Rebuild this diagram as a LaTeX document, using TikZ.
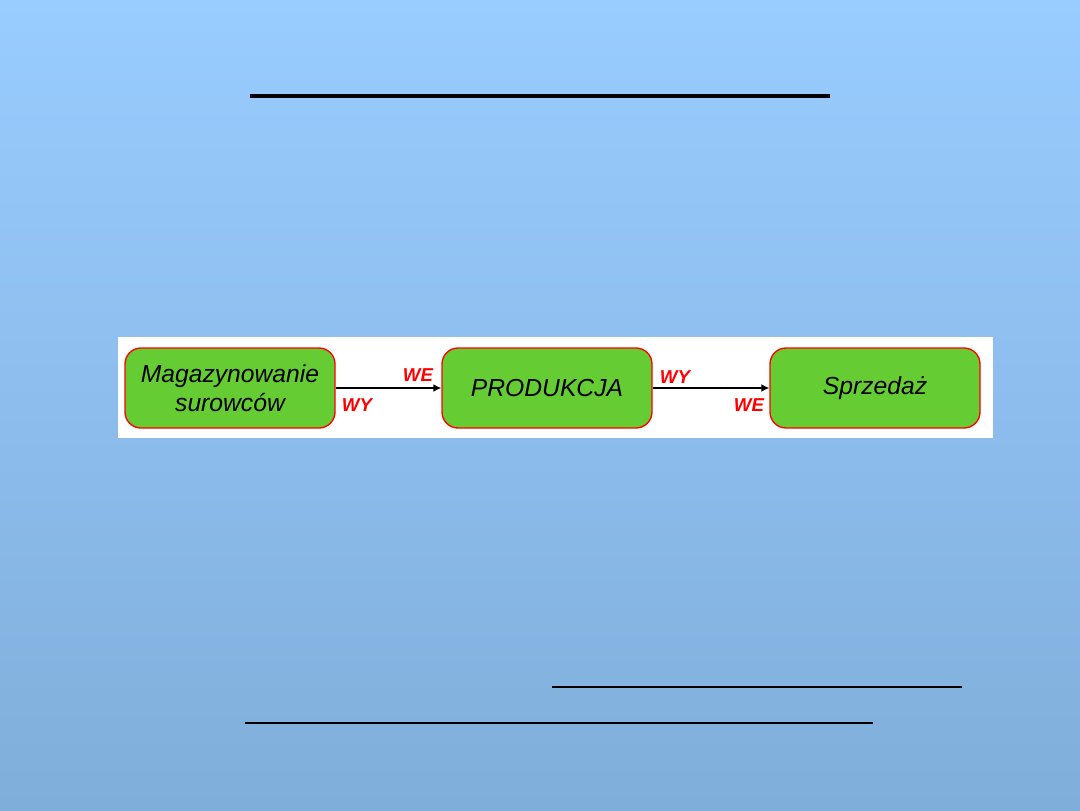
\documentclass[tikz,border=0pt]{standalone}
\usepackage{fontspec}
\setmainfont{Liberation Sans}
\usetikzlibrary{arrows.meta}
\definecolor{bgtop}{RGB}{153,204,255}
\definecolor{bgbot}{RGB}{128,174,218}
\definecolor{boxgreen}{RGB}{102,204,51}
\definecolor{lblred}{RGB}{255,0,0}
\tikzset{
  procbox/.style={draw=lblred, line width=1pt, fill=boxgreen, rounded corners=12pt,
    minimum width=157.5pt, minimum height=60pt, inner sep=0pt, align=center,
    font=\fontsize{18.5}{22}\selectfont\itshape},
  flow/.style={draw=black, line width=2pt, -{Latex[length=6pt,width=6pt]}},
  iolabel/.style={text=lblred, font=\fontsize{14}{16}\selectfont\bfseries\itshape, inner sep=0pt},
  rule/.style={draw=black}
}
\begin{document}
\begin{tikzpicture}[x=0.75pt,y=-0.75pt]
\shade[top color=bgtop, bottom color=bgbot] (0,0) rectangle (1080,810);
\useasboundingbox (0,0) rectangle (1080,810);
% title rule
\draw[rule, line width=3.5pt] (250,96) -- (830,96);
% white panel
\fill[white] (118,337) rectangle (993,438);
% boxes
\node[procbox] (mag) at (230,388) {Magazynowanie\\surowców};
\node[procbox] (prod) at (547,388) {PRODUKCJA};
\node[procbox] (sprz) at (875,388) {Sprzedaż};
% connectors
\draw[flow] (mag.east) -- (prod.west);
\draw[flow] (prod.east) -- (sprz.west);
% labels
\node[iolabel] (we1) at (418,375) {WE};
\node[iolabel] (wy1) at (357,405) {WY};
\node[iolabel] (wy2) at (675,377) {WY};
\node[iolabel] (we2) at (749,405) {WE};
% bottom rules
\draw[rule, line width=1.5pt] (552,687) -- (962,687);
\draw[rule, line width=1.5pt] (245,723) -- (873,723);
\end{tikzpicture}
\end{document}
